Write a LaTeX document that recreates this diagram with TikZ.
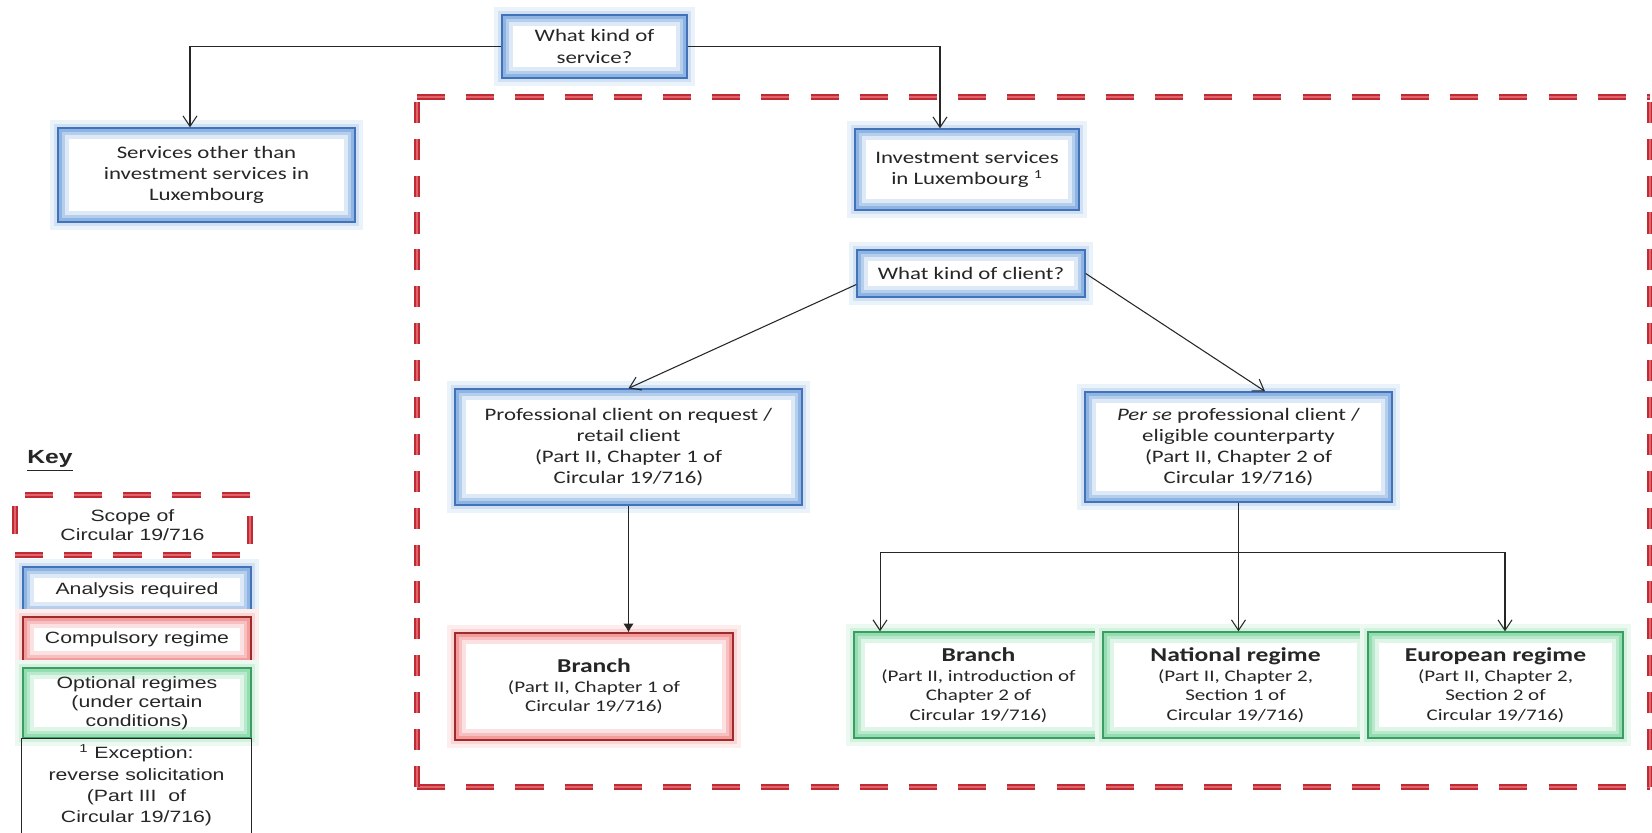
\documentclass[tikz,border=0pt]{standalone}
\usepackage{fontspec}
\setmainfont{Carlito}[FakeStretch=1.3]
\newfontfamily\keyfont{Liberation Sans}[FakeStretch=1.3]
\usepackage{tikz}
\usetikzlibrary{arrows.meta,calc}

\definecolor{bluedark}{HTML}{4272B8}
\definecolor{bluelight}{HTML}{8DB4E2}
\definecolor{reddark}{HTML}{9E2A2B}
\definecolor{redlight}{HTML}{F29C9C}
\definecolor{greendark}{HTML}{3A9E62}
\definecolor{greenlight}{HTML}{93DDB0}
\definecolor{scopered}{HTML}{C02A35}
\definecolor{scopepink}{HTML}{E2646B}

\newcommand\regime[1]{{\fontsize{11.2}{13.4}\selectfont\bfseries #1}}

\begin{document}
\begin{tikzpicture}[
    x=0.02cm, y=-0.02cm,
    glow/.style 2 args={draw=#1, line width=0.8pt, fill=white, inner sep=0pt,
        preaction={draw=#2!18, line width=9pt},
        preaction={draw=#2!40, line width=5pt},
        path picture={
            \draw[#2!30, line width=12pt] (path picture bounding box.south west) rectangle (path picture bounding box.north east);
            \draw[#2!65, line width=8pt] (path picture bounding box.south west) rectangle (path picture bounding box.north east);
            \draw[#2, line width=4pt] (path picture bounding box.south west) rectangle (path picture bounding box.north east);
        }},
    analysis/.style={glow={bluedark}{bluelight}},
    compulsory/.style={glow={reddark}{redlight}},
    optional/.style={glow={greendark}{greenlight}},
    scopeline/.style={draw=scopered, line width=1.0pt, double=scopepink, double distance=1.1pt},
    hdash/.style={scopeline, dash pattern=on 16pt off 12pt},
    vdash/.style={scopeline, dash pattern=on 12pt off 9pt},
    link/.style={line width=0.6pt, black!85},
    arrow/.style={link, -{Straight Barb[length=6pt,width=8pt]}},
    boxtext/.style={font=\fontsize{10}{12}\selectfont, align=center, text=black!85},
    regtext/.style={font=\fontsize{9.2}{11.1}\selectfont, align=center, text=black!85},
    keytext/.style={font=\keyfont\fontsize{9.3}{10.8}\selectfont, align=center, text=black!85}
]
    \path[fill=white] (0,0) rectangle (1652,832);
    \useasboundingbox (0,0) rectangle (1652,832);

    % scope of the circular
    \coordinate (tl) at (417,97);
    \coordinate (tr) at (1650,97);
    \coordinate (bl) at (417,787);
    \coordinate (br) at (1650,787);
    \draw[hdash] (tl) -- (tr);
    \draw[hdash] (bl) -- (br);
    \draw[vdash] (bl) -- (tl);
    \draw[vdash] (br) -- (tr);

    % questions and answers
    \node[analysis, boxtext, minimum width=3.70cm, minimum height=1.26cm] (service) at (594.5,46.5) {What kind of\\service?};
    \node[analysis, boxtext, minimum width=5.94cm, minimum height=1.88cm] (other) at (206.5,175) {Services other than\\investment services in\\Luxembourg};
    \node[analysis, boxtext, minimum width=4.48cm, minimum height=1.62cm] (invest) at (967,169.5) {Investment services\\in Luxembourg \textsuperscript{1}};
    \node[analysis, boxtext, minimum width=4.56cm, minimum height=0.94cm] (client) at (971,273.5) {What kind of client?};
    \node[analysis, boxtext, minimum width=6.94cm, minimum height=2.32cm] (prof) at (628.5,447) {Professional client on request /\\retail client\\(Part II, Chapter 1 of\\Circular 19/716)};
    \node[analysis, boxtext, minimum width=6.14cm, minimum height=2.20cm] (perse) at (1238.5,447) {\textit{Per se} professional client /\\eligible counterparty\\(Part II, Chapter 2 of\\Circular 19/716)};

    % regimes
    \node[compulsory, regtext, minimum width=5.56cm, minimum height=2.14cm] (branchc) at (594,686.5) {\regime{Branch}\\(Part II, Chapter 1 of\\Circular 19/716)};
    \node[optional, regtext, minimum width=4.98cm, minimum height=2.12cm] (branchp) at (978.5,685) {\regime{Branch}\\(Part II, introduction of\\Chapter 2 of\\Circular 19/716)};
    \node[optional, regtext, minimum width=5.30cm, minimum height=2.12cm] (national) at (1235.5,685) {\regime{National regime}\\(Part II, Chapter 2,\\Section 1 of\\Circular 19/716)};
    \node[optional, regtext, minimum width=5.10cm, minimum height=2.12cm] (european) at (1495.5,685) {\regime{European regime}\\(Part II, Chapter 2,\\Section 2 of\\Circular 19/716)};

    \draw[arrow] (service.west) -| ([xshift=-0.33cm]other.north);
    \draw[arrow] (service.east) -| ([xshift=-0.54cm]invest.north);
    \draw[arrow] ([yshift=-0.22cm]client.west) -- (prof.north);
    \draw[arrow] (client.east) -- ([xshift=0.53cm]perse.north);
    \draw[link, -{Latex[length=5pt,width=6pt]}] (prof.south) -- (prof.south |- branchc.north);
    \coordinate (split) at ([yshift=-1.0cm]perse.south);
    \draw[link] (perse.south) -- (split);
    \draw[arrow] (split) -| ([xshift=-1.97cm]branchp.north);
    \draw[arrow] (split) -- (split |- national.north);
    \draw[arrow] (split) -| ([xshift=0.19cm]european.north);

    % key
    \node[font=\keyfont\bfseries\fontsize{10.8}{13}\selectfont, text=black!85] (key) at (50,461) {\underline{Key}};
    \node[hdash, keytext, inner sep=0pt, minimum width=4.70cm, minimum height=1.20cm] (keyscope) at (132.5,525) {Scope of\\Circular 19/716};
    \node[analysis, keytext, minimum width=4.56cm, minimum height=0.92cm] (keyblue) at (137,590) {Analysis required};
    \node[compulsory, keytext, minimum width=4.56cm, minimum height=0.90cm] (keyred) at (137,639.5) {Compulsory regime};
    \node[optional, keytext, minimum width=4.56cm, minimum height=1.40cm] (keygreen) at (137,703) {Optional regimes\\(under certain\\conditions)};
    \node[keytext, font=\keyfont\fontsize{9.3}{12}\selectfont, minimum width=4.58cm, minimum height=1.68cm] (keynote) at (136.5,785) {\textsuperscript{1} Exception:\\reverse solicitation\\(Part III\ \ of\\Circular 19/716)};
    \draw[link] ([yshift=-0.3cm]keynote.south west) |- (keynote.north east) -- ([yshift=-0.3cm]keynote.south east);
\end{tikzpicture}
\end{document}
